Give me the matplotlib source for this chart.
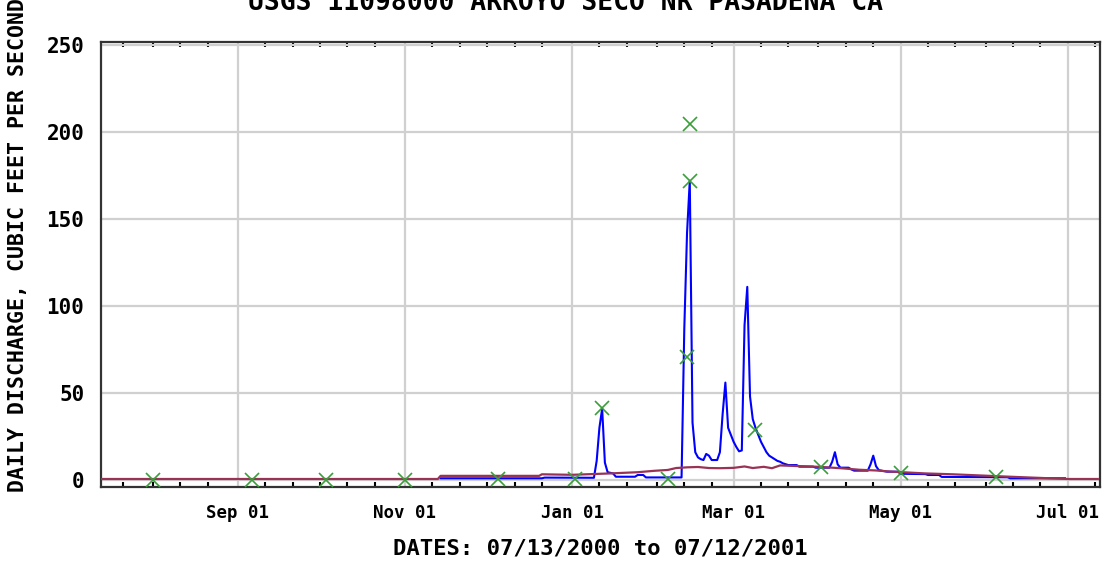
import matplotlib
matplotlib.use("Agg")
import matplotlib.pyplot as plt
import matplotlib.dates as mdates
from datetime import datetime

# ---------------- data ----------------
title = "USGS 11098000 ARROYO SECO NR PASADENA CA"
ylabel = "DAILY DISCHARGE, CUBIC FEET PER SECOND"
xlabel = "DATES: 07/13/2000 to 07/12/2001"

x_start = "2000-07-13"
x_end = "2001-07-12"

major_dates = ["2000-09-01", "2000-11-01", "2001-01-01", "2001-03-01", "2001-05-01", "2001-07-01"]
major_labels = ["Sep 01", "Nov 01", "Jan 01", "Mar 01", "May 01", "Jul 01"]
y_ticks = [0, 50, 100, 150, 200, 250]

# daily discharge (blue)
q_dates = ["2000-11-14", "2000-12-21", "2000-12-22", "2001-01-09", "2001-01-10", "2001-01-11",
           "2001-01-12", "2001-01-13", "2001-01-14", "2001-01-16", "2001-01-17", "2001-01-24",
           "2001-01-25", "2001-01-27", "2001-01-28", "2001-02-10", "2001-02-11", "2001-02-12",
           "2001-02-13", "2001-02-14", "2001-02-15", "2001-02-16", "2001-02-17", "2001-02-18",
           "2001-02-19", "2001-02-20", "2001-02-21", "2001-02-23", "2001-02-24", "2001-02-25",
           "2001-02-26", "2001-02-27", "2001-02-28", "2001-03-01", "2001-03-02", "2001-03-03",
           "2001-03-04", "2001-03-05", "2001-03-06", "2001-03-07", "2001-03-08", "2001-03-09",
           "2001-03-10", "2001-03-11", "2001-03-12", "2001-03-13", "2001-03-14", "2001-03-15",
           "2001-03-16", "2001-03-17", "2001-03-18", "2001-03-19", "2001-03-21", "2001-03-24",
           "2001-03-25", "2001-03-30", "2001-03-31", "2001-04-05", "2001-04-06", "2001-04-07",
           "2001-04-08", "2001-04-09", "2001-04-12", "2001-04-13", "2001-04-14", "2001-04-19",
           "2001-04-20", "2001-04-21", "2001-04-22", "2001-04-23", "2001-04-26", "2001-04-30",
           "2001-05-01", "2001-05-10", "2001-05-11", "2001-05-15", "2001-05-16", "2001-06-09",
           "2001-06-10", "2001-06-30"]
q_values = [1.0, 1.0, 1.4, 1.3, 11, 30,
            41, 10, 4.5, 3.8, 1.9, 1.9,
            2.9, 2.9, 1.5, 1.5, 87, 142,
            172, 33, 16, 13, 12, 11.5,
            15, 14, 11.5, 11.5, 16, 38,
            56, 30, 26, 22, 19, 16.5,
            17, 89, 111, 48, 35, 30,
            26, 22, 19, 16, 14, 13,
            12, 11, 10.5, 9.6, 8.6, 8.6,
            7.7, 7.7, 7.1, 7.1, 10.5, 16,
            9, 7.1, 7.1, 6.1, 5.4, 5.4,
            9, 14, 8, 5.7, 4.8, 4.8,
            3.6, 3.4, 2.9, 2.9, 1.8, 1.6,
            1.0, 1.0]

# daily mean statistic (maroon)
m_dates = ["2000-07-13", "2000-11-13", "2000-11-14", "2000-12-20", "2000-12-21", "2001-01-01",
           "2001-01-15", "2001-01-25", "2001-01-31", "2001-02-05", "2001-02-08", "2001-02-12",
           "2001-02-16", "2001-02-20", "2001-02-24", "2001-03-01", "2001-03-05", "2001-03-08",
           "2001-03-12", "2001-03-15", "2001-03-18", "2001-03-25", "2001-04-01", "2001-04-10",
           "2001-04-16", "2001-04-22", "2001-04-28", "2001-05-10", "2001-05-20", "2001-06-10",
           "2001-07-01", "2001-07-12"]
m_values = [0.6, 0.6, 2.4, 2.4, 3.3, 3.0,
            3.8, 4.5, 5.3, 5.8, 6.9, 7.3,
            7.5, 6.9, 6.8, 7.0, 7.8, 6.9,
            7.6, 6.8, 8.4, 8.0, 7.6, 6.7,
            5.9, 5.5, 4.8, 3.8, 3.3, 1.9,
            0.6, 0.6]

# field measurements (green x)
meas_dates = ["2000-08-01", "2000-09-06", "2000-10-03", "2000-11-01", "2000-12-05", "2001-01-02",
              "2001-01-12", "2001-02-05", "2001-02-12", "2001-02-13", "2001-02-13", "2001-03-09",
              "2001-04-02", "2001-05-01", "2001-06-05"]
meas_values = [0.3, 0.3, 0.3, 0.3, 0.5, 0.5,
               41.5, 0.5, 70.7, 204.6, 171.8, 28.7,
               7.5, 4.0, 2.0]


def d(s):
    return datetime.strptime(s, "%Y-%m-%d")


# ---------------- figure ----------------
W, H = 1115, 565
fig = plt.figure(figsize=(W / 100, H / 100), dpi=100)
fig.patch.set_facecolor("white")
L, R, T, B = 101, 1100, 42, 487
ax = fig.add_axes([L / W, (H - B) / H, (R - L) / W, (B - T) / H])

font = {"family": "DejaVu Sans Mono", "weight": "bold"}

ax.plot([d(s) for s in m_dates], m_values, color="#993355", lw=1.6, zorder=4)
ax.plot([d(s) for s in q_dates], q_values, color="#0000ff", lw=1.5, zorder=3)
ax.plot([d(s) for s in meas_dates], meas_values, linestyle="none", marker="x",
        color="#3a9e3a", ms=10, mew=1.2, zorder=5, clip_on=False)

ax.set_xlim(d(x_start), mdates.num2date(mdates.date2num(d(x_end)) + 0.8))
ax.set_ylim(-4, 251.7)

ax.set_xticks([d(s) for s in major_dates])
ax.set_xticklabels(major_labels, **font, fontsize=12.5)
ax.xaxis.set_minor_locator(mdates.DayLocator(bymonthday=[1, 11, 21]))
ax.tick_params(axis="x", which="major", length=0, pad=12, colors="black")
ax.tick_params(axis="x", which="minor", direction="in", length=3.5, width=1.5,
               top=True, bottom=True, color="black")

ax.set_yticks(y_ticks)
ax.set_yticklabels([str(v) for v in y_ticks], **font, fontsize=15)
ax.tick_params(axis="y", length=0, pad=12)

ax.grid(True, which="major", color="#d0d0d0", lw=1.6, zorder=0)
ax.set_axisbelow(True)
for sp in ax.spines.values():
    sp.set_color("#333333")
    sp.set_linewidth(1.6)

fig.text(566 / W, 1 - 10 / H, title, ha="center", va="baseline", **font, fontsize=19)
fig.text(18 / W, 1 - 245 / H, ylabel, ha="center", va="center", rotation=90, **font, fontsize=15.5)
fig.text(600 / W, 1 - 548 / H, xlabel, ha="center", va="center", **font, fontsize=16)

fig.savefig("out.png", dpi=100, facecolor="white")
